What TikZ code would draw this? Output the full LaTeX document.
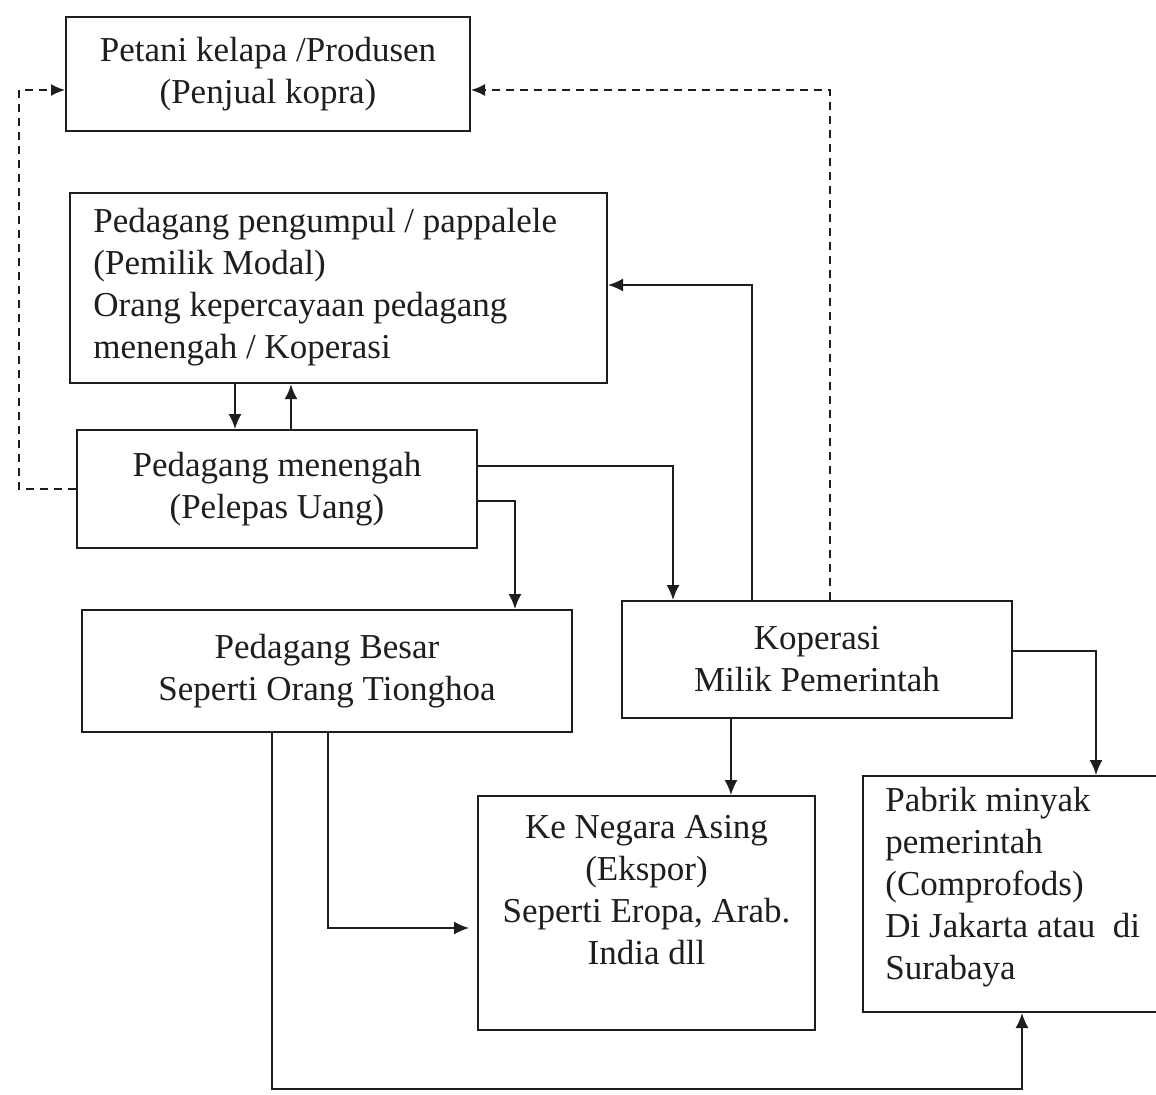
\documentclass[tikz,border=0pt]{standalone}
\usepackage{fontspec}
\setmainfont{Liberation Serif}
\usetikzlibrary{arrows.meta}
\definecolor{ink}{HTML}{1E1E1E}
\tikzset{
  boxnode/.style={draw=ink, line width=1pt, rectangle, inner sep=0pt, text=ink,
    font=\fontsize{17.5}{21}\selectfont, align=center},
  txtnode/.style={inner sep=0pt, text=ink, font=\fontsize{17.5}{21}\selectfont, align=center},
  conn/.style={draw=ink, line width=0.9pt, -{Latex[length=7.5pt,width=6.5pt]}},
  dconn/.style={draw=ink, line width=0.9pt, dash pattern=on 4pt off 3pt, -{Latex[length=7pt,width=6pt]}}
}
\begin{document}
\begin{tikzpicture}[x=0.5pt,y=-0.5pt]
\clip (0,0) rectangle (1156,1094);
\fill[white] (0,0) rectangle (1156,1094);

% boxes
\node[boxnode, minimum width=202pt, minimum height=57pt] (A) at (268,74)
  {Petani kelapa /Produsen\\(Penjual kopra)};
\node[boxnode, minimum width=268.5pt, minimum height=95pt] (B) at (338.5,288) {};
\node[txtnode, anchor=west, align=left] (Btxt) at (93,287)
  {Pedagang pengumpul / pappalele\\(Pemilik Modal)\\Orang kepercayaan pedagang\\menengah / Koperasi};
\node[boxnode, minimum width=200pt, minimum height=59pt] (C) at (277,489)
  {Pedagang menengah\\(Pelepas Uang)};
\node[boxnode, minimum width=245pt, minimum height=61pt] (D) at (327,671)
  {Pedagang Besar\\Seperti Orang Tionghoa};
\node[boxnode, minimum width=195pt, minimum height=58.5pt] (E) at (817,659.5)
  {Koperasi\\Milik Pemerintah};
\node[boxnode, minimum width=168.5pt, minimum height=117pt] (F) at (646.5,913) {};
\node[txtnode] (Ftxt) at (646.5,890)
  {Ke Negara Asing\\(Ekspor)\\Seperti Eropa, Arab.\\India dll};
\node[boxnode, minimum width=153.5pt, minimum height=118pt] (G) at (1016.5,894) {};
\node[txtnode, anchor=west, align=left] (Gtxt) at (885,887)
  {Pabrik minyak\\pemerintah\\(Comprofods)\\Di Jakarta atau\ \ di\\Surabaya};

% dashed connectors
\draw[dconn] (C.west) -- ++(-28.5pt,0) |- ([yshift=-8pt]A.west);
\draw[dconn] ([xshift=6.5pt]E.north) |- ([yshift=-8pt]A.east);

% solid connectors
\draw[conn] ([xshift=-51.75pt]B.south) -- ([xshift=-21pt]C.north);
\draw[conn, line width=1.4pt] ([xshift=7pt]C.north) -- ([xshift=-23.75pt]B.south);
\draw[conn] ([yshift=11.5pt]C.east) -| ([xshift=-72pt]E.north);
\draw[conn] ([yshift=-6pt]C.east) -| ([xshift=94pt]D.north);
\draw[conn] ([xshift=-32.5pt]E.north) |- ([yshift=1.5pt]B.east);
\draw[conn] ([xshift=-43pt]E.south) -- ([xshift=42.25pt]F.north);
\draw[conn] ([yshift=4.25pt]E.east) -| ([xshift=39.75pt]G.north);
\draw[conn] ([xshift=0.5pt]D.south) |- ([yshift=-7.5pt,xshift=-4pt]F.west);
\draw[conn] ([xshift=-27.5pt]D.south) |- ([xshift=2.75pt,yshift=-38pt]G.south) -- ([xshift=2.75pt]G.south);
\end{tikzpicture}
\end{document}
